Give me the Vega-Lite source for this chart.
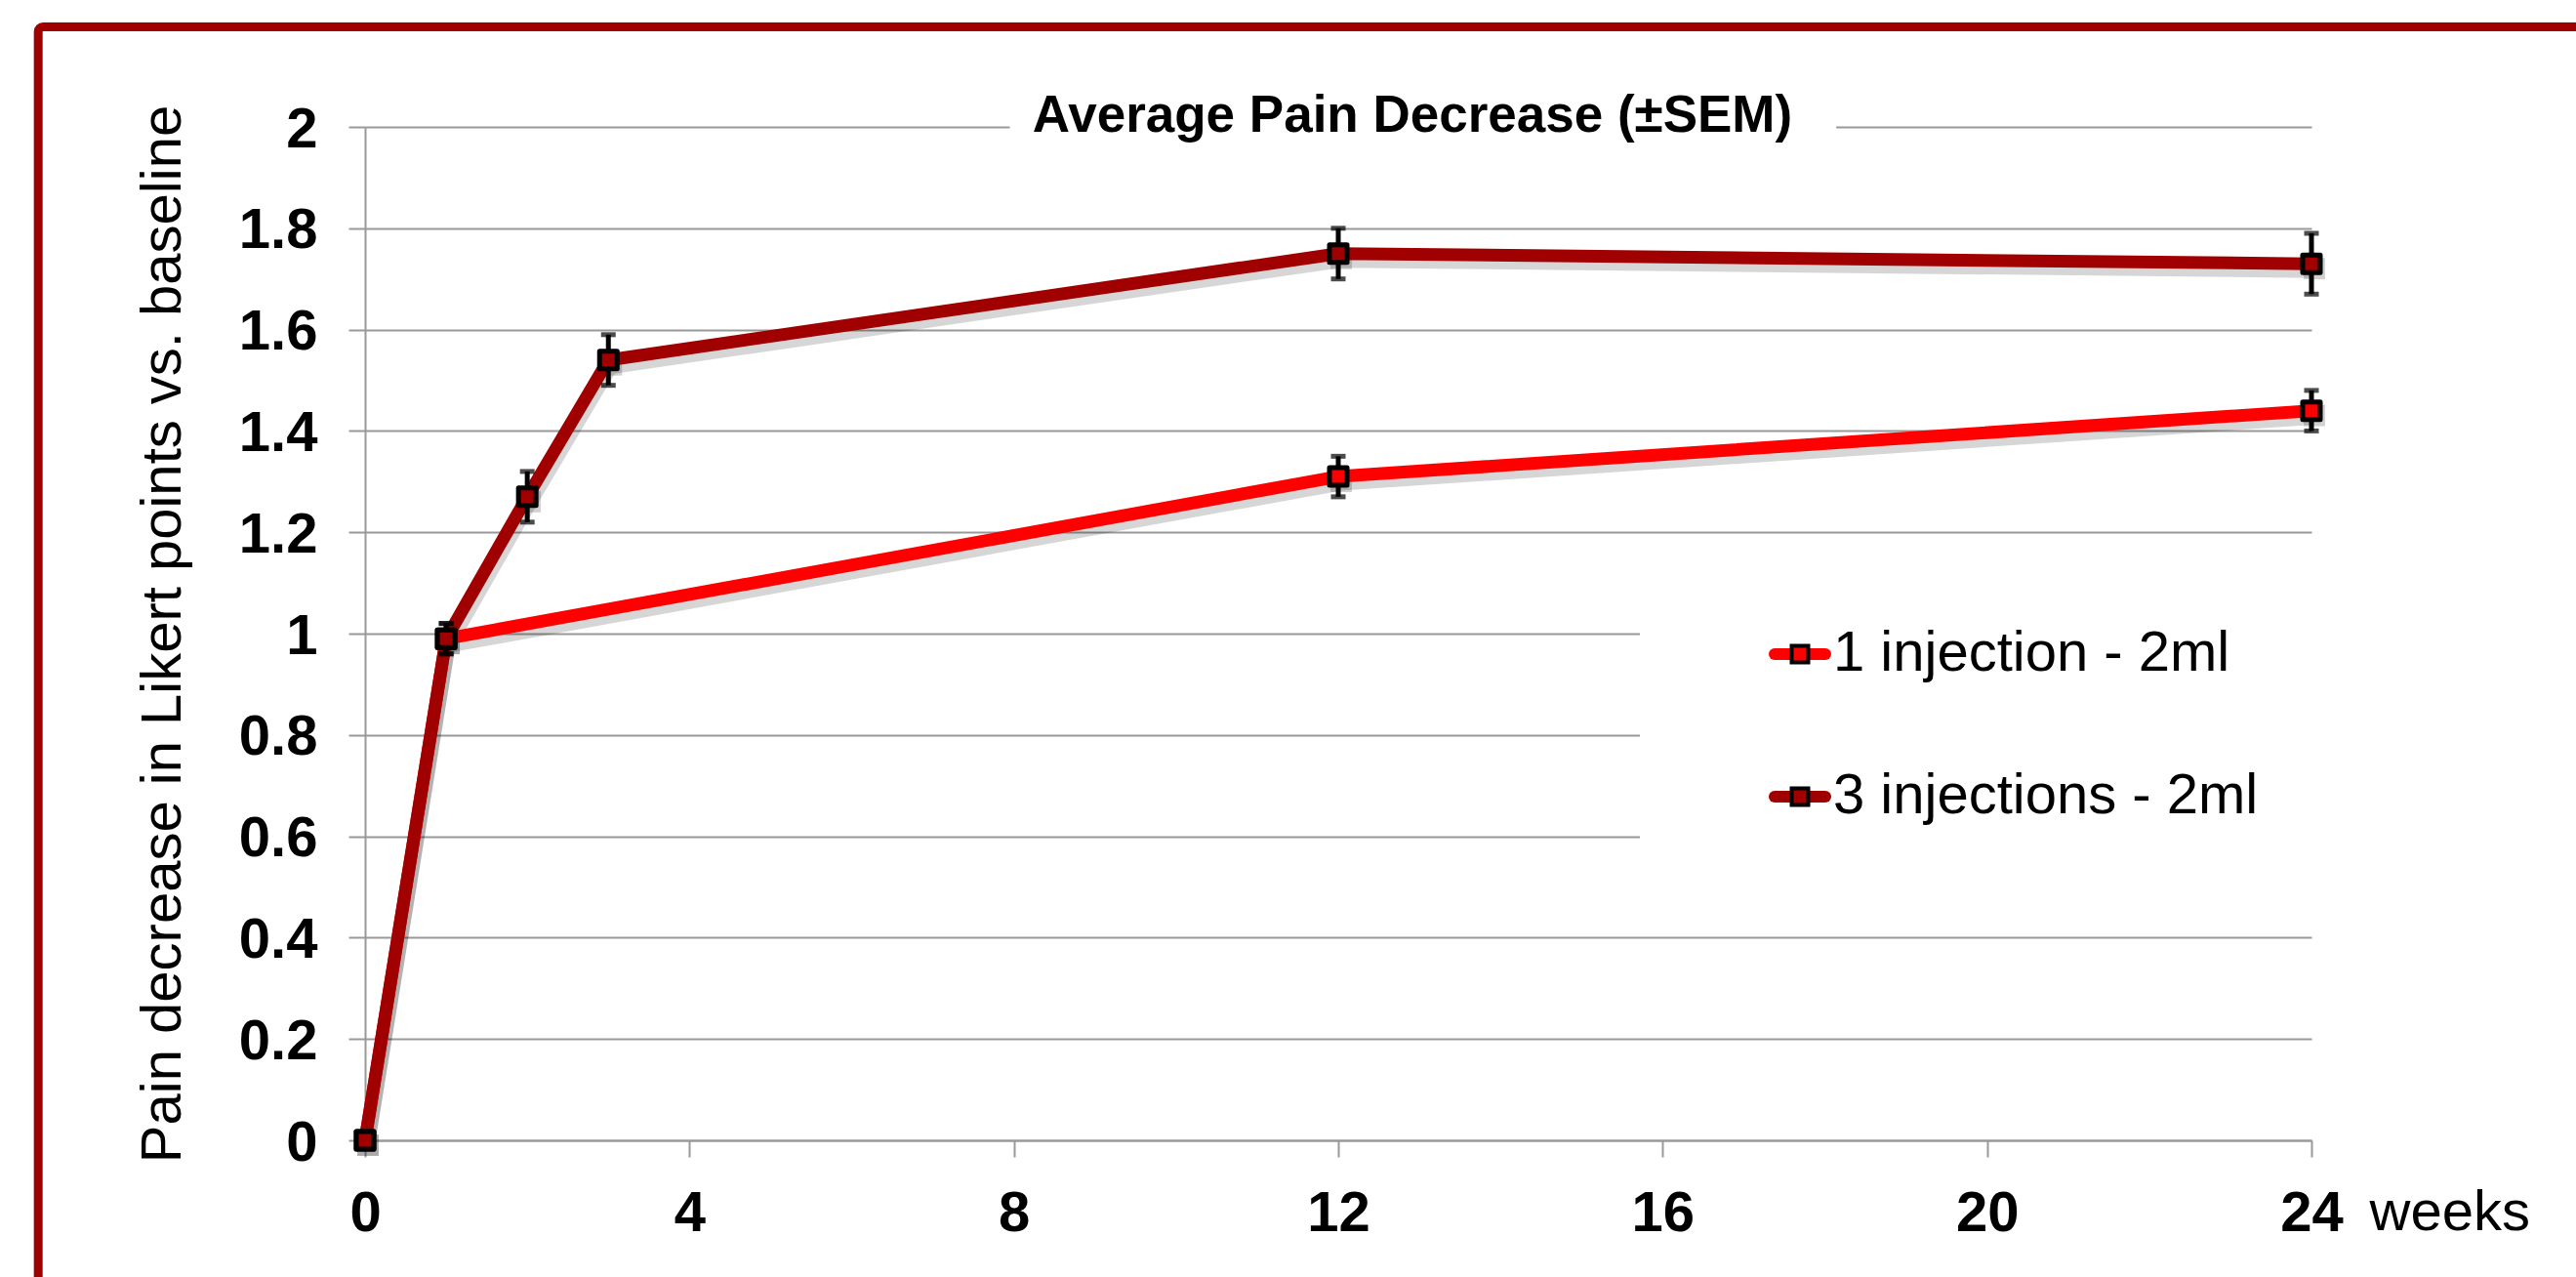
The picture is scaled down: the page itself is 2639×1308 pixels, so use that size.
{
  "$schema": "https://vega.github.io/schema/vega-lite/v6.json",
  "width": 1994,
  "height": 1038,
  "autosize": {"type": "none"},
  "padding": {"left": 374, "top": 130, "right": 271, "bottom": 140},
  "background": "white",
  "config": {"view": {"stroke": null}, "font": "Liberation Sans"},
  "data": {
    "values": [
      {"series": "1 injection - 2ml", "week": 0, "value": 0, "lo": 0, "hi": 0},
      {"series": "1 injection - 2ml", "week": 1, "value": 0.99, "lo": 0.96, "hi": 1.02},
      {"series": "1 injection - 2ml", "week": 12, "value": 1.31, "lo": 1.27, "hi": 1.35},
      {"series": "1 injection - 2ml", "week": 24, "value": 1.44, "lo": 1.40, "hi": 1.48},
      {"series": "3 injections - 2ml", "week": 0, "value": 0, "lo": 0, "hi": 0},
      {"series": "3 injections - 2ml", "week": 1, "value": 0.99, "lo": 0.96, "hi": 1.02},
      {"series": "3 injections - 2ml", "week": 2, "value": 1.27, "lo": 1.22, "hi": 1.32},
      {"series": "3 injections - 2ml", "week": 3, "value": 1.54, "lo": 1.49, "hi": 1.59},
      {"series": "3 injections - 2ml", "week": 12, "value": 1.75, "lo": 1.70, "hi": 1.80},
      {"series": "3 injections - 2ml", "week": 24, "value": 1.73, "lo": 1.67, "hi": 1.79}
    ]
  },
  "layer": [
    {
      "data": {"values": [{}]},
      "mark": {"type": "rect", "filled": false, "stroke": "#A00000", "strokeWidth": 9, "cornerRadius": 5},
      "encoding": {
        "x": {"datum": -4.03, "type": "quantitative", "scale": {"domain": [0, 24], "nice": false}},
        "x2": {"datum": 27.6},
        "y": {"datum": 2.1975, "type": "quantitative", "scale": {"domain": [0, 2], "nice": false}},
        "y2": {"datum": -0.32}
      }
    },
    {
      "data": {"values": [{}]},
      "mark": {"type": "rect", "fill": "white", "stroke": null},
      "encoding": {
        "x": {"datum": 7.95, "type": "quantitative", "scale": {"domain": [0, 24], "nice": false}},
        "x2": {"datum": 18.14},
        "y": {"datum": 1.975, "type": "quantitative", "scale": {"domain": [0, 2], "nice": false}},
        "y2": {"datum": 2.025}
      }
    },
    {
      "mark": {"type": "line", "color": "#000000", "strokeWidth": 15, "opacity": 0.16, "xOffset": 2, "yOffset": 7, "strokeJoin": "round"},
      "encoding": {
        "x": {"field": "week", "type": "quantitative", "scale": {"domain": [0, 24], "nice": false}},
        "y": {"field": "value", "type": "quantitative", "scale": {"domain": [0, 2], "nice": false}},
        "detail": {"field": "series"}
      }
    },
    {
      "mark": {"type": "square", "filled": true, "size": 480, "color": "#000000", "opacity": 0.18, "xOffset": 3, "yOffset": 5},
      "encoding": {
        "x": {"field": "week", "type": "quantitative", "scale": {"domain": [0, 24], "nice": false}},
        "y": {"field": "value", "type": "quantitative", "scale": {"domain": [0, 2], "nice": false}}
      }
    },
    {
      "mark": {"type": "line", "strokeWidth": 13, "strokeJoin": "round", "opacity": 1},
      "encoding": {
        "x": {
          "field": "week", "type": "quantitative",
          "scale": {"domain": [0, 24], "nice": false},
          "axis": {
            "values": [0, 4, 8, 12, 16, 20, 24],
            "format": "d",
            "grid": false,
            "labelFlush": false,
            "domainColor": "#999999", "domainWidth": 2,
            "tickColor": "#999999", "tickWidth": 2, "tickSize": 17,
            "labelFont": "Liberation Sans", "labelFontWeight": "bold", "labelFontSize": 58, "labelColor": "#000000",
            "labelPadding": 29,
            "title": "weeks",
            "titleFont": "Liberation Sans", "titleFontWeight": "normal", "titleFontSize": 58, "titleColor": "#000000",
            "titleX": 2053, "titleY": 91, "titleAlign": "left", "titleBaseline": "alphabetic", "titleAngle": 0
          }
        },
        "y": {
          "field": "value", "type": "quantitative",
          "scale": {"domain": [0, 2], "nice": false},
          "axis": {
            "values": [0, 0.2, 0.4, 0.6, 0.8, 1, 1.2, 1.4, 1.6, 1.8, 2],
            "format": "~g",
            "grid": true, "gridColor": "#999999", "gridWidth": 2,
            "labelFlush": false,
            "domainColor": "#999999", "domainWidth": 2,
            "tickColor": "#999999", "tickWidth": 2, "tickSize": 17,
            "labelFont": "Liberation Sans", "labelFontWeight": "bold", "labelFontSize": 58, "labelColor": "#000000",
            "labelPadding": 32, "labelOffset": 3,
            "title": "Pain decrease in Likert points vs. baseline",
            "titleFont": "Liberation Sans", "titleFontWeight": "normal", "titleFontSize": 58, "titleColor": "#000000",
            "titleX": -190, "titleY": 519, "titleAngle": 270, "titleAlign": "center", "titleBaseline": "alphabetic"
          }
        },
        "color": {
          "field": "series", "type": "nominal",
          "scale": {"domain": ["1 injection - 2ml", "3 injections - 2ml"], "range": ["#FF0000", "#A00000"]},
          "legend": {
            "title": null, "orient": "none", "legendX": 1306, "legendY": 438,
            "fillColor": "white", "padding": 70,
            "symbolType": "stroke", "symbolSize": 2704, "symbolStrokeWidth": 12, "symbolOpacity": 1,
            "symbolOffset": 62, "labelOffset": 2,
            "labelFont": "Liberation Sans", "labelFontSize": 58, "labelColor": "#000000", "labelLimit": 1000,
            "rowPadding": 85, "zindex": 1,
            "encode": {"symbols": {"update": {"strokeCap": {"value": "round"}}}}
          }
        }
      }
    },
    {
      "mark": {"type": "errorbar", "color": "#000000", "thickness": 5, "ticks": {"size": 15, "thickness": 5, "color": "#000000"}, "rule": {"strokeWidth": 5, "color": "#000000"}},
      "encoding": {
        "x": {"field": "week", "type": "quantitative", "scale": {"domain": [0, 24], "nice": false}},
        "y": {"field": "lo", "type": "quantitative", "scale": {"domain": [0, 2], "nice": false}, "title": "Pain decrease in Likert points vs. baseline"},
        "y2": {"field": "hi"}
      }
    },
    {
      "mark": {"type": "square", "filled": true, "size": 324, "stroke": "#000000", "strokeWidth": 5, "strokeJoin": "round", "opacity": 1},
      "encoding": {
        "x": {"field": "week", "type": "quantitative", "scale": {"domain": [0, 24], "nice": false}},
        "y": {"field": "value", "type": "quantitative", "scale": {"domain": [0, 2], "nice": false}},
        "fill": {
          "field": "series", "type": "nominal",
          "scale": {"range": ["#FF0000", "#A00000"]},
          "legend": {
            "title": null, "orient": "none", "legendX": 1306, "legendY": 438,
            "padding": 70,
            "symbolType": "M-0.283,-0.283H0.283V0.283H-0.283Z", "symbolSize": 3600,
            "symbolStrokeWidth": 4, "symbolStrokeColor": "#000000", "symbolOpacity": 1,
            "symbolOffset": 62, "labelOffset": 2,
            "labelFont": "Liberation Sans", "labelFontSize": 58, "labelColor": "transparent", "labelLimit": 1000,
            "rowPadding": 85, "zindex": 2
          }
        }
      }
    },
    {
      "data": {"values": [{}]},
      "mark": {"type": "text", "text": "Average Pain Decrease (±SEM)", "font": "Liberation Sans", "fontWeight": "bold", "fontSize": 53, "baseline": "alphabetic", "align": "center", "dy": 5, "color": "#000000"},
      "encoding": {
        "x": {"datum": 12.915, "type": "quantitative", "scale": {"domain": [0, 24], "nice": false}},
        "y": {"datum": 2, "type": "quantitative", "scale": {"domain": [0, 2], "nice": false}}
      }
    }
  ]
}
